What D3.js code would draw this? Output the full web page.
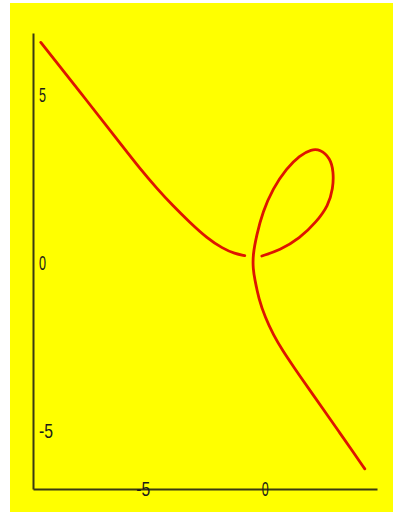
<!DOCTYPE html>
<html><head><meta charset="utf-8">
<script src="https://cdn.jsdelivr.net/npm/d3@7"></script>
<style>
html,body{margin:0;padding:0;background:#fff;}
svg{display:block;}
</style></head>
<body>
<script>
// Tick values
const xTicks = [-5, 0];
const yTicks = [-5, 0, 5];
// Left branch (x, y)
const branchX = [-9.18, -7.58, -5.82, -5.12, -4.43, -3.77, -3.07, -2.38, -1.72, -1.23, -0.82];
const branchY = [6.57, 5.10, 3.46, 2.81, 2.22, 1.70, 1.20, 0.74, 0.42, 0.27, 0.21];
// Loop + lower branch
const loopX = [-0.12, 0.61, 1.43, 2.12, 2.60, 2.80, 2.82, 2.68, 2.27, 1.91, 1.43, 0.89, 0.33, -0.08, -0.34, -0.49, -0.48, -0.41, -0.25, 0.02, 0.35, 0.74, 1.13, 1.45, 1.97, 2.52, 3.06, 3.60, 4.10];
const loopY = [0.20, 0.37, 0.72, 1.22, 1.70, 2.21, 2.72, 3.12, 3.38, 3.38, 3.20, 2.81, 2.21, 1.52, 0.81, 0.22, -0.18, -0.50, -1.07, -1.64, -2.15, -2.63, -3.05, -3.39, -3.93, -4.50, -5.06, -5.62, -6.15];

const W = 393, H = 514;
const svg = d3.select("body").append("svg").attr("width", W).attr("height", H);
svg.append("rect").attr("x", 10).attr("y", 3).attr("width", W - 10).attr("height", 509).attr("fill", "#ffff00");

const x = d3.scaleLinear().domain([-9.5, 4.6]).range([33, 377]);
const y = d3.scaleLinear().domain([-6.75, 6.85]).range([489, 33]);

const font = "'Liberation Sans',sans-serif";

const yAxis = svg.append("g").attr("transform", `translate(${x(-9.5)},0)`)
  .call(d3.axisRight(y).tickValues(yTicks).tickSize(0).tickPadding(6).tickFormat(d => String(d)));
const xAxis = svg.append("g").attr("transform", `translate(0,${y(-6.75)})`)
  .call(d3.axisBottom(x).tickValues(xTicks).tickSize(0).tickPadding(0).tickFormat(d => String(d)));

[xAxis, yAxis].forEach(g => {
  g.select(".domain").attr("stroke", "#3a3a12").attr("stroke-width", 2);
  g.selectAll("text").attr("fill", "#1a1a1a").style("font-family", font).style("font-size", "21px")
    .attr("textLength", d => d < 0 ? 14 : 7).attr("lengthAdjust", "spacingAndGlyphs");
});
xAxis.selectAll("text").attr("y", 0).attr("dy", "0.35em");

const line = d3.line().x(d => x(d[0])).y(d => y(d[1])).curve(d3.curveBasis);
const branch = branchX.map((v, i) => [v, branchY[i]]);
const loop = loopX.map((v, i) => [v, loopY[i]]);
[branch, loop].forEach(pts => {
  svg.append("path").datum(pts).attr("d", line)
    .attr("fill", "none").attr("stroke", "#dd1500").attr("stroke-width", 2.8)
    .attr("stroke-linecap", "round").attr("stroke-linejoin", "round");
});
</script>
</body></html>
